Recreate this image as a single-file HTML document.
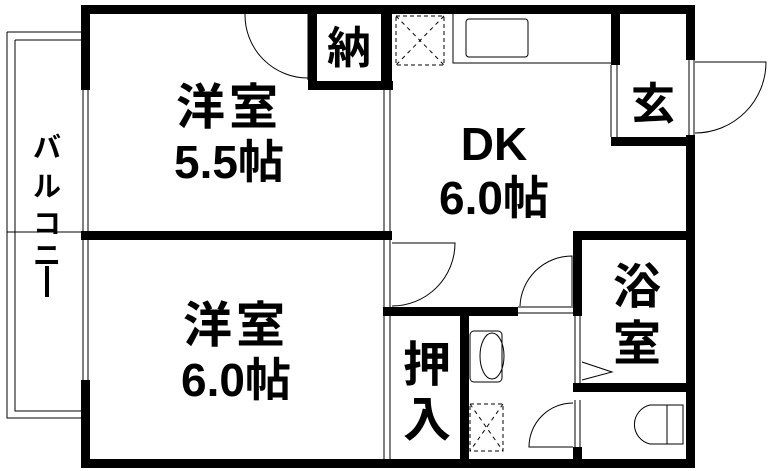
<!DOCTYPE html>
<html><head><meta charset="utf-8"><style>
html,body{margin:0;padding:0;background:#fff;width:769px;height:471px;overflow:hidden}
text{font-family:"Liberation Sans","Noto Sans CJK JP",sans-serif;font-weight:bold;fill:#000}
</style></head><body>
<svg width="769" height="471" viewBox="0 0 769 471" xmlns="http://www.w3.org/2000/svg">
<g fill="none" stroke="#000" stroke-width="1">
<path d="M7 32 H81 M7 32 V418 H81 M15 40 V411 H81 M15 40 H81 M7 232 H81"/>
<path d="M83 90 V380 M88 90 V380"/>
<path d="M384 90 V231 M390 90 V231 M384 240 V307 M390 240 V307 M384 316 V459 M390 316 V459"/>
<path d="M245 14 A63 63 0 0 0 308 78 M308 14 V80"/>
<path d="M453 14 V63 H611"/>
<rect x="466" y="19" width="62" height="38" rx="3"/>
<rect x="396" y="16" width="48" height="49" stroke-dasharray="4,3"/>
<path d="M396 16 L444 65 M444 16 L396 65" stroke-dasharray="4,4"/>
<path d="M611 65 V137 M617 65 V137 M689 60 V135 M694 60 V135"/>
<path d="M695 62 H766 A71 71 0 0 1 695 133"/>
<path d="M392 243 H455 A63 63 0 0 1 392 306"/>
<path d="M518 307 H573 M518 313 H573"/>
<path d="M572 306 V256 A52 52 0 0 0 520 306"/>
<path d="M575 316 V383 M580 316 V383"/>
<path d="M582 362 L612 372 L582 380"/>
<rect x="470" y="331" width="32" height="51" rx="4"/>
<ellipse cx="492" cy="356" rx="12" ry="23"/>
<rect x="470" y="404" width="33" height="47" stroke-dasharray="4,3"/>
<path d="M470 404 L503 451 M503 404 L470 451" stroke-dasharray="4,4"/>
<path d="M575 400 V447 M580 400 V447"/>
<path d="M573 403 A44 44 0 0 0 529 447 H573"/>
<path d="M650 405 H683 V444 H650 A20 20 0 0 1 650 405 Z M667 405 V444"/>
</g>
<g fill="#000">
<rect x="81" y="5" width="614" height="9"/>
<rect x="81" y="5" width="9" height="85"/>
<rect x="81" y="380" width="9" height="87"/>
<rect x="81" y="459" width="614" height="9"/>
<rect x="686" y="5" width="9" height="55"/>
<rect x="686" y="135" width="9" height="333"/>
<rect x="81" y="231" width="307" height="9"/>
<rect x="308" y="5" width="9" height="85"/>
<rect x="308" y="81" width="85" height="9"/>
<rect x="381" y="5" width="11" height="85"/>
<rect x="611" y="5" width="9" height="60"/>
<rect x="611" y="137" width="84" height="9"/>
<rect x="573" y="231" width="122" height="9"/>
<rect x="573" y="231" width="9" height="85"/>
<rect x="573" y="383" width="122" height="9"/>
<rect x="573" y="447" width="9" height="20"/>
<rect x="383" y="307" width="135" height="9"/>
<rect x="460" y="307" width="9" height="160"/>
<rect x="383" y="231" width="9" height="9"/>
<rect x="45" y="266" width="4" height="31"/>
</g>
<text x="229" y="124" font-size="49" text-anchor="middle" letter-spacing="4">洋室</text>
<text x="229" y="178" font-size="46" text-anchor="middle">5.5帖</text>
<text x="236" y="342" font-size="49" text-anchor="middle" letter-spacing="4">洋室</text>
<text x="236" y="396" font-size="46" text-anchor="middle">6.0帖</text>
<text x="494" y="160" font-size="46" text-anchor="middle">DK</text>
<text x="494" y="214" font-size="46" text-anchor="middle">6.0帖</text>
<text x="349" y="63" font-size="44" text-anchor="middle">納</text>
<text x="653" y="119" font-size="44" text-anchor="middle">玄</text>
<text x="637" y="303" font-size="48" text-anchor="middle">浴</text>
<text x="637" y="360" font-size="48" text-anchor="middle">室</text>
<text x="427" y="381" font-size="48" text-anchor="middle">押</text>
<text x="427" y="436" font-size="48" text-anchor="middle">入</text>
<text x="47" y="157" font-size="28" text-anchor="middle">バ</text>
<text x="47" y="196" font-size="28" text-anchor="middle">ル</text>
<text x="47" y="233" font-size="28" text-anchor="middle">コ</text>
<text x="47" y="265" font-size="28" text-anchor="middle">ニ</text>
</svg>
</body></html>
